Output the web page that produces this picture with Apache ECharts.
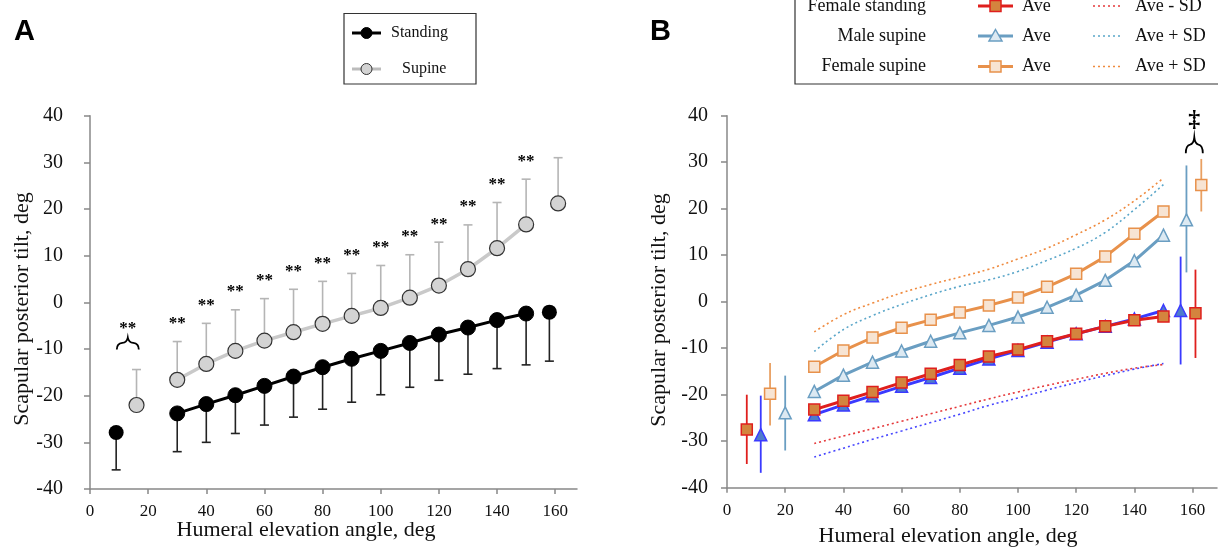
<!DOCTYPE html>
<html>
<head>
<meta charset="utf-8">
<script src="https://cdn.jsdelivr.net/npm/echarts@6/dist/echarts.min.js"></script>
<style>html,body{margin:0;padding:0;background:#fff}#c{width:1218px;height:550px}</style>
</head>
<body>
<div id="c"></div>
<script>
// ---------- Panel A data ----------
const anglesA = [30, 40, 50, 60, 70, 80, 90, 100, 110, 120, 130, 140, 150];
const standingA = [-23.8, -21.8, -19.9, -17.9, -15.9, -13.9, -12.1, -10.4, -8.7, -6.9, -5.4, -3.8, -2.4];
const standingSdLowA = [-32.0, -30.0, -28.1, -26.3, -24.6, -22.9, -21.4, -19.8, -18.2, -16.7, -15.4, -14.2, -13.4];
const supineA = [-16.6, -13.2, -10.4, -8.2, -6.4, -4.6, -2.9, -1.2, 1.0, 3.6, 7.1, 11.6, 16.7];
const supineSdHighA = [-8.4, -4.5, -1.6, 0.8, 2.8, 4.5, 6.2, 7.9, 10.2, 12.9, 16.6, 21.4, 26.4];
// isolated points (rest / maximum): angle, mean, SD end
const standingIsoX = [9, 158];
const standingIsoY = [-27.9, -2.1];
const standingIsoSd = [-35.9, -12.6];
const supineIsoX = [16, 161];
const supineIsoY = [-22.0, 21.2];
const supineIsoSd = [-14.4, 31.0];
// significance marks
const starIsoA = [13, -4.9];
const braceA = [13, -8.7];

// ---------- Panel B data ----------
const anglesB = [30, 40, 50, 60, 70, 80, 90, 100, 110, 120, 130, 140, 150];
const maleStandingB = [-24.3, -22.2, -20.2, -18.2, -16.3, -14.3, -12.3, -10.5, -8.7, -6.9, -5.3, -3.7, -1.9];
const femaleStandingB = [-23.2, -21.3, -19.4, -17.4, -15.5, -13.6, -11.8, -10.3, -8.5, -6.9, -5.3, -4.0, -3.2];
const maleSupineB = [-19.3, -15.8, -13.0, -10.6, -8.5, -6.7, -5.1, -3.3, -1.2, 1.4, 4.6, 8.8, 14.3];
const femaleSupineB = [-14.0, -10.5, -7.7, -5.6, -3.9, -2.3, -0.8, 0.9, 3.2, 6.0, 9.7, 14.6, 19.4];
const maleStandingMinusSd = [-33.4, -31.5, -29.6, -27.8, -26.0, -24.2, -22.3, -20.7, -19.0, -17.4, -15.9, -14.5, -13.3];
const femaleStandingMinusSd = [-30.5, -28.9, -27.3, -25.7, -24.1, -22.5, -20.9, -19.4, -18.0, -16.7, -15.4, -14.3, -13.5];
const maleSupinePlusSd = [-10.7, -6.0, -3.0, -0.6, 1.5, 3.3, 4.7, 6.5, 8.9, 11.5, 14.9, 19.8, 25.2];
const femaleSupinePlusSd = [-6.5, -2.8, -0.3, 1.9, 3.7, 5.3, 7.0, 9.2, 11.5, 14.4, 17.6, 21.7, 26.6];
// isolated points: angle, mean, low, high  (rest, maximum)
const maleStandingIsoX = [11.6, 155.9], maleStandingIsoY = [-28.6, -1.9], maleStandingIsoLo = [-36.8, -13.5], maleStandingIsoHi = [-20.2, 9.7];
const femaleStandingIsoX = [6.8, 161.0], femaleStandingIsoY = [-27.5, -2.5], femaleStandingIsoLo = [-34.9, -12.1], femaleStandingIsoHi = [-20.0, 6.9];
const maleSupineIsoX = [20.0, 157.9], maleSupineIsoY = [-23.9, 17.6], maleSupineIsoLo = [-32.0, 6.3], maleSupineIsoHi = [-15.9, 29.3];
const femaleSupineIsoX = [14.8, 163.0], femaleSupineIsoY = [-19.8, 25.1], femaleSupineIsoLo = [-26.6, 19.4], femaleSupineIsoHi = [-13.2, 30.7];
const daggerB = [160.6, 39.5];
const braceB = [160.6, 33.8];

const xTicks = [0, 20, 40, 60, 80, 100, 120, 140, 160];

// ---------- styles ----------
const SERIF = "'Liberation Serif','Times New Roman',serif";
const C = {
  red: '#df1f1d', redFill: '#d4843e',
  blue: '#3a3aff', blueFill: '#4f7ccb',
  steel: '#6a9ec2', steelFill: '#dce9f2',
  orange: '#e8914b', orangeFill: '#f7e4d3', orangeBar: '#e9a062',
  redDot: '#e5383a', blueDot: '#4747ff', steelDot: '#5aa6c9', orangeDot: '#ef8a3e'
};

const zip = (xs, ys) => xs.map((x, i) => [x, ys[i]]);
const zip3 = (xs, a, b) => xs.map((x, i) => [x, a[i], b[i]]);

function errBars(idx, data, color, width, cap) {
  return {
    type: 'custom', xAxisIndex: idx, yAxisIndex: idx, data, silent: true, clip: false, z: 1,
    encode: { x: 0, y: [1, 2] },
    renderItem: (params, api) => {
      const x = api.value(0);
      const p1 = api.coord([x, api.value(1)]), p2 = api.coord([x, api.value(2)]);
      const ch = [{ type: 'line', shape: { x1: p1[0], y1: p1[1], x2: p2[0], y2: p2[1] }, style: { stroke: color, lineWidth: width } }];
      if (cap) ch.push({ type: 'line', shape: { x1: p2[0] - cap, y1: p2[1], x2: p2[0] + cap, y2: p2[1] }, style: { stroke: color, lineWidth: width } });
      return { type: 'group', children: ch };
    }
  };
}
function errBars2(idx, data, color, width) {
  return {
    type: 'custom', xAxisIndex: idx, yAxisIndex: idx, data, silent: true, clip: false, z: 1,
    encode: { x: 0, y: [1, 2] },
    renderItem: (params, api) => {
      const x = api.value(0);
      const p1 = api.coord([x, api.value(1)]), p2 = api.coord([x, api.value(2)]);
      return { type: 'line', shape: { x1: p1[0], y1: p1[1], x2: p2[0], y2: p2[1] }, style: { stroke: color, lineWidth: width } };
    }
  };
}
function textMarks(idx, data, text, fontSize, dy, weight) {
  return {
    type: 'custom', xAxisIndex: idx, yAxisIndex: idx, data, silent: true, clip: false, z: 5,
    encode: { x: 0, y: 1 },
    renderItem: (params, api) => {
      const p = api.coord([api.value(0), api.value(1)]);
      return {
        type: 'text', x: p[0], y: p[1] + dy,
        style: { text, fontSize, fontWeight: weight || 'normal', fontFamily: SERIF, fill: '#000', align: 'center', verticalAlign: 'middle' }
      };
    }
  };
}
// upward-pointing curly brace centred on a data point
function braceMark(idx, data, w, h) {
  const a = w / 2;
  const path = `M ${-a} ${h * 0.55} Q ${-a} ${h * 0.05} ${-a * 0.5} 0 Q ${-a * 0.08} ${-h * 0.05} 0 ${-h * 0.45} ` +
               `Q ${a * 0.08} ${-h * 0.05} ${a * 0.5} 0 Q ${a} ${h * 0.05} ${a} ${h * 0.55}`;
  return {
    type: 'custom', xAxisIndex: idx, yAxisIndex: idx, data, silent: true, clip: false, z: 5,
    encode: { x: 0, y: 1 },
    renderItem: (params, api) => {
      const p = api.coord([api.value(0), api.value(1)]);
      return { type: 'path', x: p[0], y: p[1], shape: { pathData: path }, style: { fill: 'none', stroke: '#000', lineWidth: 1.8 } };
    }
  };
}

function xAxisCfg(idx, max) {
  return {
    type: 'value', gridIndex: idx, min: 0, max,
    axisLine: { show: true, onZero: false, lineStyle: { color: '#888', width: 1.5 } },
    axisTick: { show: true, length: 5, customValues: xTicks, lineStyle: { color: '#888', width: 1.5 } },
    axisLabel: { customValues: xTicks, margin: 14, fontFamily: SERIF, fontSize: 17, color: '#111' },
    splitLine: { show: false }
  };
}
function yAxisCfg(idx, margin) {
  return {
    type: 'value', gridIndex: idx, min: -40, max: 40, interval: 10,
    axisLine: { show: true, onZero: false, lineStyle: { color: '#888', width: 1.5 } },
    axisTick: { show: true, length: 6, lineStyle: { color: '#888', width: 1.5 } },
    axisLabel: { margin, fontFamily: SERIF, fontSize: 20, color: '#111' },
    splitLine: { show: false }
  };
}

const series = [];
// ----- Panel A -----
series.push(errBars(0, zip3(anglesA, standingA, standingSdLowA), '#222', 1.6, 4.5));
series.push(errBars(0, zip3(standingIsoX, standingIsoY, standingIsoSd), '#222', 1.6, 4.5));
series.push(errBars(0, zip3(anglesA, supineA, supineSdHighA), '#b5b5b5', 1.6, 4.5));
series.push(errBars(0, zip3(supineIsoX, supineIsoY, supineIsoSd), '#b5b5b5', 1.6, 4.5));
series.push({ type: 'line', name: 'Supine', xAxisIndex: 0, yAxisIndex: 0, data: zip(anglesA, supineA), z: 3,
  symbol: 'circle', symbolSize: 15, lineStyle: { color: '#c9c9c9', width: 3.5 },
  itemStyle: { color: '#d3d3d3', borderColor: '#333', borderWidth: 1.2 } });
series.push({ type: 'scatter', xAxisIndex: 0, yAxisIndex: 0, data: zip(supineIsoX, supineIsoY), z: 3,
  symbol: 'circle', symbolSize: 15, itemStyle: { color: '#d3d3d3', borderColor: '#333', borderWidth: 1.2, opacity: 1 } });
series.push({ type: 'line', name: 'Standing', xAxisIndex: 0, yAxisIndex: 0, data: zip(anglesA, standingA), z: 4,
  symbol: 'circle', symbolSize: 15, lineStyle: { color: '#000', width: 3 },
  itemStyle: { color: '#000', borderColor: '#000', borderWidth: 1 } });
series.push({ type: 'scatter', xAxisIndex: 0, yAxisIndex: 0, data: zip(standingIsoX, standingIsoY), z: 4,
  symbol: 'circle', symbolSize: 15, itemStyle: { color: '#000', opacity: 1 } });
series.push(textMarks(0, zip(anglesA, supineSdHighA), '**', 17, -18, 'bold'));
series.push(textMarks(0, [starIsoA], '**', 17, 3, 'bold'));
series.push(braceMark(0, [braceA], 22, 12));

// ----- Panel B -----
series.push({ type: 'line', xAxisIndex: 1, yAxisIndex: 1, data: zip(anglesB, femaleSupinePlusSd), symbol: 'none', smooth: 0.4, z: 2,
  lineStyle: { color: C.orangeDot, width: 1.6, type: [2, 3] } });
series.push({ type: 'line', xAxisIndex: 1, yAxisIndex: 1, data: zip(anglesB, maleSupinePlusSd), symbol: 'none', smooth: 0.4, z: 2,
  lineStyle: { color: C.steelDot, width: 1.6, type: [2, 3] } });
series.push({ type: 'line', xAxisIndex: 1, yAxisIndex: 1, data: zip(anglesB, femaleStandingMinusSd), symbol: 'none', smooth: 0.4, z: 2,
  lineStyle: { color: C.redDot, width: 1.6, type: [2, 3] } });
series.push({ type: 'line', xAxisIndex: 1, yAxisIndex: 1, data: zip(anglesB, maleStandingMinusSd), symbol: 'none', smooth: 0.4, z: 2,
  lineStyle: { color: C.blueDot, width: 1.6, type: [2, 3] } });
series.push(errBars2(1, zip3(femaleStandingIsoX, femaleStandingIsoLo, femaleStandingIsoHi), C.red, 1.8));
series.push(errBars2(1, zip3(maleStandingIsoX, maleStandingIsoLo, maleStandingIsoHi), C.blue, 1.8));
series.push(errBars2(1, zip3(femaleSupineIsoX, femaleSupineIsoLo, femaleSupineIsoHi), C.orangeBar, 1.8));
series.push(errBars2(1, zip3(maleSupineIsoX, maleSupineIsoLo, maleSupineIsoHi), C.steel, 1.8));
series.push({ type: 'line', xAxisIndex: 1, yAxisIndex: 1, data: zip(anglesB, femaleSupineB), z: 3,
  symbol: 'rect', symbolSize: 11, lineStyle: { color: C.orange, width: 3 },
  itemStyle: { color: C.orangeFill, borderColor: C.orange, borderWidth: 1.5 } });
series.push({ type: 'line', xAxisIndex: 1, yAxisIndex: 1, data: zip(anglesB, maleSupineB), z: 3,
  symbol: 'triangle', symbolSize: 12, lineStyle: { color: C.steel, width: 3 },
  itemStyle: { color: C.steelFill, borderColor: C.steel, borderWidth: 1.5 } });
series.push({ type: 'line', xAxisIndex: 1, yAxisIndex: 1, data: zip(anglesB, maleStandingB), z: 3,
  symbol: 'triangle', symbolSize: 12, lineStyle: { color: C.blue, width: 3 },
  itemStyle: { color: C.blueFill, borderColor: C.blue, borderWidth: 1.5 } });
series.push({ type: 'line', xAxisIndex: 1, yAxisIndex: 1, data: zip(anglesB, femaleStandingB), z: 4,
  symbol: 'rect', symbolSize: 11, lineStyle: { color: C.red, width: 3 },
  itemStyle: { color: C.redFill, borderColor: C.red, borderWidth: 1.5 } });
series.push({ type: 'scatter', xAxisIndex: 1, yAxisIndex: 1, data: zip(femaleStandingIsoX, femaleStandingIsoY), z: 4,
  symbol: 'rect', symbolSize: 11, itemStyle: { color: C.redFill, borderColor: C.red, borderWidth: 1.5, opacity: 1 } });
series.push({ type: 'scatter', xAxisIndex: 1, yAxisIndex: 1, data: zip(maleStandingIsoX, maleStandingIsoY), z: 4,
  symbol: 'triangle', symbolSize: 12, itemStyle: { color: C.blueFill, borderColor: C.blue, borderWidth: 1.5, opacity: 1 } });
series.push({ type: 'scatter', xAxisIndex: 1, yAxisIndex: 1, data: zip(femaleSupineIsoX, femaleSupineIsoY), z: 4,
  symbol: 'rect', symbolSize: 11, itemStyle: { color: C.orangeFill, borderColor: C.orange, borderWidth: 1.5, opacity: 1 } });
series.push({ type: 'scatter', xAxisIndex: 1, yAxisIndex: 1, data: zip(maleSupineIsoX, maleSupineIsoY), z: 4,
  symbol: 'triangle', symbolSize: 12, itemStyle: { color: C.steelFill, borderColor: C.steel, borderWidth: 1.5, opacity: 1 } });
series.push(textMarks(1, [daggerB], '\u2021', 24, 2, 'bold'));
series.push(braceMark(1, [braceB], 17, 16));

// ---------- legends / titles (graphic) ----------
const T = (text, x, y, opt, rot) => Object.assign({ type: 'text', x, y, rotation: rot || 0, silent: true,
  style: Object.assign({ text, fontFamily: SERIF, fontSize: 17, fill: '#111', verticalAlign: 'middle' }, opt || {}) });
const L = (x1, y1, x2, y2, stroke, w, dash) => ({ type: 'line', silent: true, shape: { x1, y1, x2, y2 }, style: { stroke, lineWidth: w, lineDash: dash || null } });
const graphics = [
  { type: 'text', x: 14, y: 17, style: { text: 'A', fontFamily: "'Liberation Sans',Arial,sans-serif", fontWeight: 'bold', fontSize: 29, fill: '#000' } },
  { type: 'text', x: 650, y: 17, style: { text: 'B', fontFamily: "'Liberation Sans',Arial,sans-serif", fontWeight: 'bold', fontSize: 29, fill: '#000' } },
  // axis titles
  T('Scapular posterior tilt, deg', 22, 309, { fontSize: 22, align: 'center' }, Math.PI / 2),
  T('Scapular posterior tilt, deg', 659, 310, { fontSize: 22, align: 'center' }, Math.PI / 2),
  T('Humeral elevation angle, deg', 306, 530, { fontSize: 22, align: 'center' }),
  T('Humeral elevation angle, deg', 948, 536, { fontSize: 22, align: 'center' }),
  // legend A
  { type: 'rect', silent: true, shape: { x: 344, y: 13.5, width: 132, height: 70.5 }, style: { fill: 'none', stroke: '#333', lineWidth: 1.2 } },
  L(352, 33, 381, 33, '#000', 3),
  { type: 'circle', silent: true, shape: { cx: 366.5, cy: 33, r: 5.5 }, style: { fill: '#000', stroke: '#000' } },
  T('Standing', 391, 33, { fontSize: 16 }),
  L(352, 69, 381, 69, '#bcbcbc', 3),
  { type: 'circle', silent: true, shape: { cx: 366.5, cy: 69, r: 5.5 }, style: { fill: '#d3d3d3', stroke: '#333', lineWidth: 1 } },
  T('Supine', 402, 69, { fontSize: 16 }),
  // legend B
  { type: 'rect', silent: true, shape: { x: 795, y: -40, width: 440, height: 124 }, style: { fill: 'none', stroke: '#333', lineWidth: 1.2 } },
  T('Female standing', 926, 6, { align: 'right', fontSize: 18 }),
  L(978, 6, 1013, 6, C.red, 3),
  { type: 'rect', silent: true, shape: { x: 990, y: 0.5, width: 11, height: 11 }, style: { fill: C.redFill, stroke: C.red, lineWidth: 1.5 } },
  T('Ave', 1022, 6, { fontSize: 18 }),
  L(1093, 6, 1123, 6, C.redDot, 1.6, [2, 3]),
  T('Ave - SD', 1135, 6, { fontSize: 18 }),
  T('Male supine', 926, 36, { align: 'right', fontSize: 18 }),
  L(978, 36, 1013, 36, C.steel, 3),
  { type: 'polygon', silent: true, shape: { points: [[995.5, 29.5], [1002, 41], [989, 41]] }, style: { fill: C.steelFill, stroke: C.steel, lineWidth: 1.5 } },
  T('Ave', 1022, 36, { fontSize: 18 }),
  L(1093, 36, 1123, 36, C.steelDot, 1.6, [2, 3]),
  T('Ave + SD', 1135, 36, { fontSize: 18 }),
  T('Female supine', 926, 66.5, { align: 'right', fontSize: 18 }),
  L(978, 66.5, 1013, 66.5, C.orange, 3),
  { type: 'rect', silent: true, shape: { x: 990, y: 61, width: 11, height: 11 }, style: { fill: C.orangeFill, stroke: C.orange, lineWidth: 1.5 } },
  T('Ave', 1022, 66.5, { fontSize: 18 }),
  L(1093, 66.5, 1123, 66.5, C.orangeDot, 1.6, [2, 3]),
  T('Ave + SD', 1135, 66.5, { fontSize: 18 })
];

const chart = echarts.init(document.getElementById('c'), null, { renderer: 'canvas' });
chart.setOption({
  animation: false,
  backgroundColor: '#fff',
  grid: [
    { left: 90, top: 115.7, width: 487, height: 373.3 },
    { left: 727, top: 115.7, width: 490, height: 372 }
  ],
  xAxis: [xAxisCfg(0, 167.5), xAxisCfg(1, 168.4)],
  yAxis: [yAxisCfg(0, 27), yAxisCfg(1, 19)],
  series,
  graphic: graphics
});
</script>
</body>
</html>
